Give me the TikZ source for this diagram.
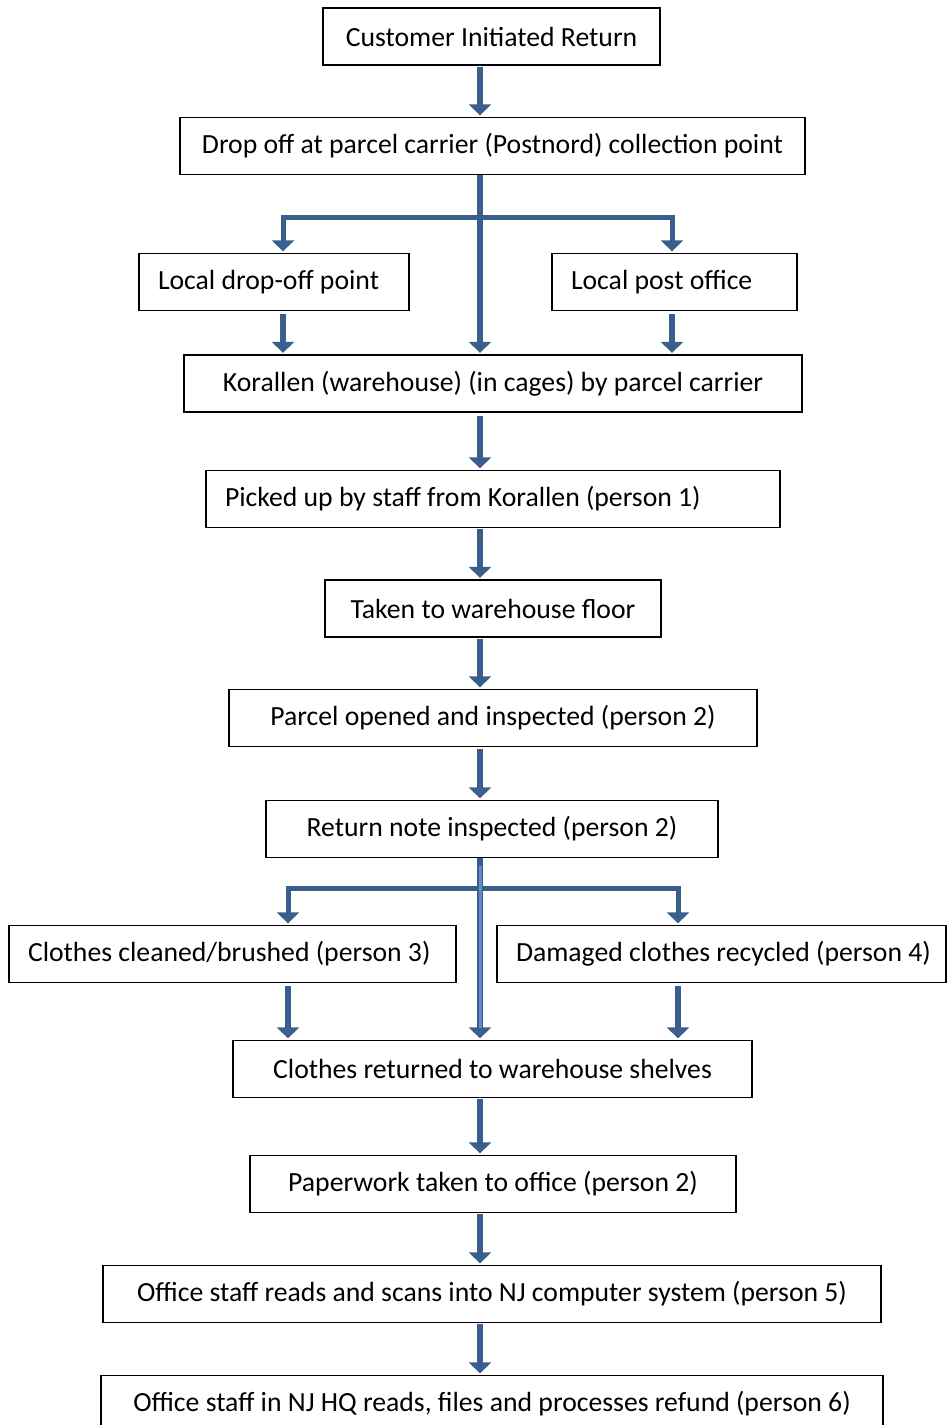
\documentclass[tikz,border=0pt]{standalone}
\usepackage{fontspec}
\setmainfont{Carlito}
\usetikzlibrary{arrows.meta}
\definecolor{flowblue}{RGB}{58,95,140}
\definecolor{flowlight}{RGB}{95,140,200}
\tikzset{
  box/.style={draw, line width=1.3pt, minimum height=57pt, inner xsep=19pt, inner ysep=0pt,
    font=\fontsize{27.7}{33}\selectfont},
  leftbox/.style={box, align=flush left},
  flow/.style={draw=flowblue, line width=6.5pt, line join=miter,
    -{Triangle[width=22pt,length=11pt]}},
  branch/.style={flow, line width=5pt},
}
\begin{document}
\begin{tikzpicture}[x=1pt,y=-1pt]
  \useasboundingbox (0,0) rectangle (946,1425);
  \draw
    (491.5,36.5) node[box, minimum width=337pt] (cust) {Customer Initiated Return}
    (492.5,146) node[box, minimum width=625pt] (drop) {Drop off at parcel carrier (Postnord) collection point}
    (274,282) node[leftbox, text width=232pt] (local) {\mbox{Local drop-off point}}
    (674.5,282) node[leftbox, text width=207pt] (post) {\mbox{Local post office}}
    (493,383.5) node[box, minimum width=618pt] (koral) {Korallen (warehouse) (in cages) by parcel carrier}
    (493,499) node[leftbox, text width=536pt] (picked) {\mbox{Picked up by staff from Korallen (person 1)}}
    (493,608.5) node[box, minimum width=336pt] (floor) {Taken to warehouse floor}
    (493,718) node[box, minimum width=528pt] (opened) {Parcel opened and inspected (person 2)}
    (492,829) node[box, minimum width=452pt] (note) {Return note inspected (person 2)}
    (232.5,954) node[leftbox, text width=409pt] (clean) {\mbox{Clothes cleaned/brushed (person 3)}}
    (721.5,954) node[leftbox, text width=411pt] (damaged) {\mbox{Damaged clothes recycled (person 4)}}
    (492.5,1069) node[box, minimum width=519pt] (shelves) {Clothes returned to warehouse shelves}
    (493,1184) node[box, minimum width=486pt] (paper) {Paperwork taken to office (person 2)}
    (492,1294) node[box, minimum width=778pt] (scan) {Office staff reads and scans into NJ computer system (person 5)}
    (492,1404) node[box, minimum width=782pt] (refund) {Office staff in NJ HQ reads, files and processes refund (person 6)};
  \coordinate (spine) at (480,0);
  \coordinate (left1) at (283,0);
  \coordinate (right1) at (672,0);
  \coordinate (left2) at (288,0);
  \coordinate (right2) at (678,0);
  \coordinate (fork1) at (480,217);
  \coordinate (fork2) at (480,888);
  \begin{scope}[shorten >=1.5pt]
    \draw[flow] ([yshift=-1pt]cust.south -| spine) to (drop.north -| spine);
    \draw[flow] (drop.south -| spine) to (koral.north -| spine);
    \draw[branch] (fork1) -| (local.north -| left1);
    \draw[branch] (fork1) -| (post.north -| right1);
    \draw[flow] ([yshift=-3pt]local.south -| left1) to (koral.north -| left1);
    \draw[flow] ([yshift=-3pt]post.south -| right1) to (koral.north -| right1);
    \draw[flow] ([yshift=-3pt]koral.south -| spine) to (picked.north -| spine);
    \draw[flow] ([yshift=-1pt]picked.south -| spine) to (floor.north -| spine);
    \draw[flow] ([yshift=-1pt]floor.south -| spine) to (opened.north -| spine);
    \draw[flow] ([yshift=-2pt]opened.south -| spine) to (note.north -| spine);
    \draw[branch] (fork2) -| (clean.north -| left2);
    \draw[branch] (fork2) -| (damaged.north -| right2);
    \draw[flow, postaction={draw=flowlight, line width=3pt, -, shorten >=12pt, shorten <=8pt}]
      (note.south -| spine) to (shelves.north -| spine);
    \draw[flow] ([yshift=-3pt]clean.south -| left2) to (shelves.north -| left2);
    \draw[flow] ([yshift=-3pt]damaged.south -| right2) to (shelves.north -| right2);
    \draw[flow] ([yshift=-1pt]shelves.south -| spine) to (paper.north -| spine);
    \draw[flow] ([yshift=-1pt]paper.south -| spine) to (scan.north -| spine);
    \draw[flow] ([yshift=-1pt]scan.south -| spine) to (refund.north -| spine);
  \end{scope}
\end{tikzpicture}
\end{document}
